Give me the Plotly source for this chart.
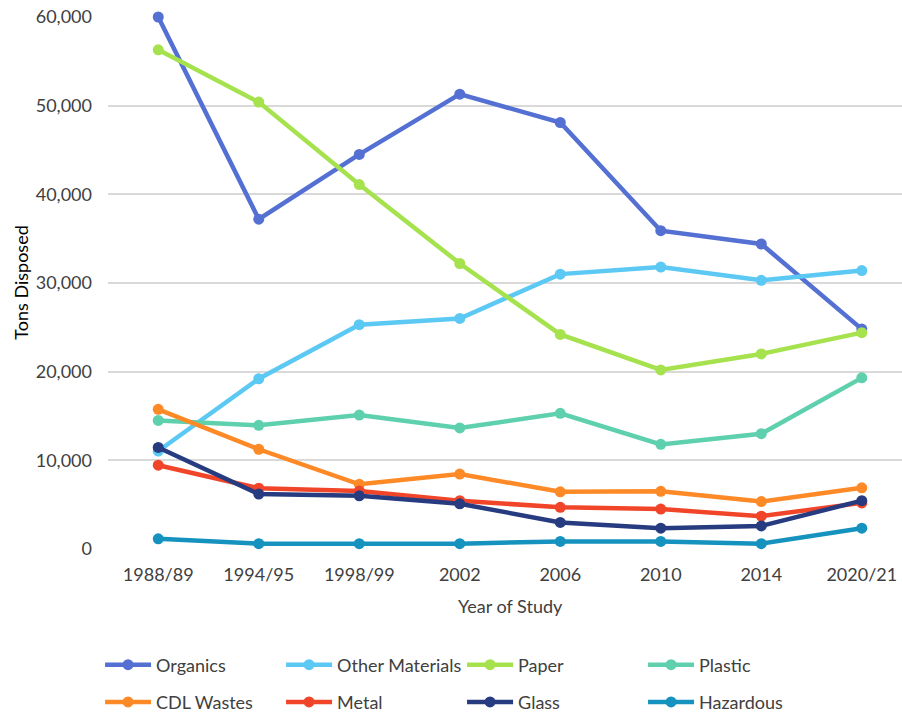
import plotly.graph_objects as go

years = ["1988/89", "1994/95", "1998/99", "2002", "2006", "2010", "2014", "2020/21"]

organics = [60000, 37200, 44500, 51300, 48100, 35900, 34400, 24800]
other_materials = [11050, 19200, 25300, 26000, 31000, 31800, 30300, 31400]
paper = [56300, 50400, 41100, 32200, 24200, 20200, 22000, 24400]
plastic = [14500, 13950, 15100, 13650, 15300, 11800, 13000, 19300]
cdl_wastes = [15750, 11250, 7300, 8450, 6450, 6500, 5350, 6900]
metal = [9450, 6850, 6550, 5450, 4700, 4500, 3700, 5200]
glass = [11450, 6200, 6000, 5100, 3000, 2350, 2600, 5450]
hazardous = [1150, 600, 600, 600, 850, 850, 600, 2350]

series = [
    ("Organics", organics, "#5470d2", "legend"),
    ("Other Materials", other_materials, "#5cc8f4", "legend"),
    ("Paper", paper, "#a5e24e", "legend"),
    ("Plastic", plastic, "#5ed0ad", "legend"),
    ("CDL Wastes", cdl_wastes, "#fd8a27", "legend2"),
    ("Metal", metal, "#f1452a", "legend2"),
    ("Glass", glass, "#273b80", "legend2"),
    ("Hazardous", hazardous, "#1592be", "legend2"),
]

FONT = "Lato"
TEXT = "#404040"

fig = go.Figure()
for name, vals, color, leg in series:
    fig.add_trace(go.Scatter(
        x=years, y=vals, name=name, mode="lines+markers",
        line=dict(color=color, width=4.5),
        marker=dict(color=color, size=11),
        legend=leg, cliponaxis=False,
    ))

legend_common = dict(
    orientation="h", xanchor="left", yanchor="middle",
    entrywidth=120, entrywidthmode="pixels",
    font=dict(family=FONT, size=18, color=TEXT),
    itemwidth=46, bgcolor="rgba(0,0,0,0)",
)

fig.update_layout(
    width=902, height=716,
    margin=dict(l=108, r=0, t=17, b=167, autoexpand=False),
    paper_bgcolor="white", plot_bgcolor="white",
    font=dict(family=FONT, size=18, color=TEXT),
    xaxis=dict(
        type="category", range=[-0.5, 7.4],
        showgrid=False, showline=False, zeroline=False,
        ticks="", ticklabelstandoff=13,
        tickfont=dict(family=FONT, size=18, color=TEXT),
    ),
    yaxis=dict(
        range=[0, 60000], dtick=10000, tickformat=",",
        showgrid=True, gridcolor="#d9d9d9", gridwidth=1.5,
        zeroline=False, showline=False, ticks="",
        ticklabelstandoff=15,
        tickfont=dict(family=FONT, size=18, color=TEXT),
    ),
    legend=dict(x=-0.01, y=-0.218, **legend_common),
    legend2=dict(x=-0.01, y=-0.288, **legend_common),
    annotations=[
        dict(text="Year of Study", xref="x", yref="paper", x=3.5, y=-0.107,
             xanchor="center", yanchor="middle", showarrow=False,
             font=dict(family=FONT, size=18, color=TEXT)),
        dict(text="Tons Disposed", xref="paper", yref="paper", x=-0.11, y=0.5,
             xanchor="center", yanchor="middle", showarrow=False, textangle=-90,
             font=dict(family=FONT, size=18, color="#000000")),
    ],
)

fig.write_html("out.html")
